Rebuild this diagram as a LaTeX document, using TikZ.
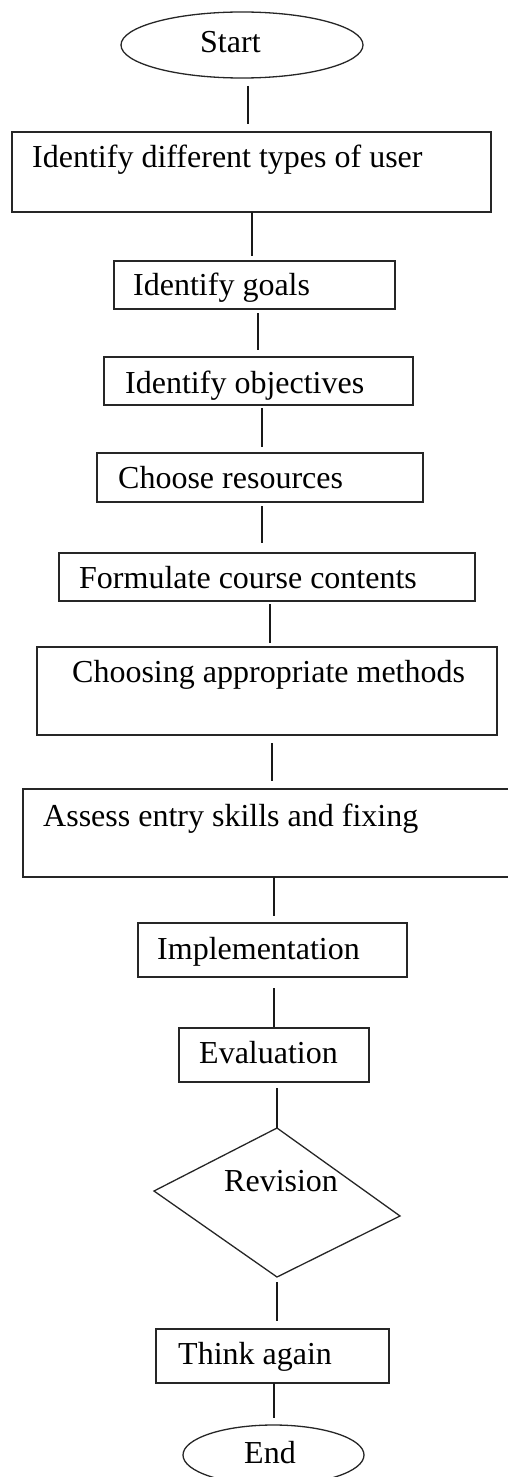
\documentclass[tikz,border=0pt]{standalone}
\usepackage{fontspec}
\setmainfont{Liberation Serif}
\usetikzlibrary{shapes.geometric}
\tikzset{
  box/.style={draw=black!85, line width=1.3pt, rectangle, inner sep=0pt, outer sep=0pt},
  oval/.style={draw=black!85, line width=1.3pt, ellipse, inner sep=0pt, outer sep=0pt},
  lbl/.style={anchor=base west, inner sep=0pt, font=\fontsize{32}{38}\selectfont},
  conn/.style={draw=black!90, line width=1.6pt},
}
\begin{document}
\begin{tikzpicture}[x=1pt,y=-1pt]
\useasboundingbox (0,0) rectangle (508,1477);
\clip (0,0) rectangle (508,1477);
% shapes
\node[oval, minimum width=242, minimum height=66] (s) at (242,45) {};
\node[box, minimum width=479, minimum height=80] (b1) at (251.5,172) {};
\node[box, minimum width=281, minimum height=48] (b2) at (254.5,285) {};
\node[box, minimum width=309, minimum height=48] (b3) at (258.5,381) {};
\node[box, minimum width=326, minimum height=49] (b4) at (260,477.5) {};
\node[box, minimum width=416, minimum height=48] (b5) at (267,577) {};
\node[box, minimum width=460, minimum height=88] (b6) at (267,691) {};
\node[box, minimum width=517, minimum height=88] (b7) at (281.5,833) {};
\node[box, minimum width=269, minimum height=54] (b8) at (272.5,950) {};
\node[box, minimum width=190, minimum height=54] (b9) at (274,1055) {};
\coordinate (dt) at (277,1128);
\coordinate (dl) at (154,1191);
\coordinate (db) at (277,1277);
\coordinate (dr) at (400,1216);
\draw[draw=black!85, line width=1.3pt, line join=miter] (dt) -- (dl) -- (db) -- (dr) -- cycle;
\node[box, minimum width=233, minimum height=54] (b10) at (272.5,1356) {};
\node[oval, minimum width=181, minimum height=60] (e) at (273.5,1455) {};
% texts
\node[lbl] (ts) at (200,53) {Start};
\node[lbl] (t1) at (32,167) {Identify different types of user};
\node[lbl] (t2) at (133,295) {Identify goals};
\node[lbl] (t3) at (125,393) {Identify objectives};
\node[lbl] (t4) at (118,488) {Choose resources};
\node[lbl] (t5) at (79,588) {Formulate course contents};
\node[lbl] (t6) at (72,682) {Choosing appropriate methods};
\node[lbl] (t7) at (43,826) {Assess entry skills and fixing};
\node[lbl] (t8) at (157,959) {Implementation};
\node[lbl] (t9) at (199,1063) {Evaluation};
\node[lbl] (tr) at (224,1191) {Revision};
\node[lbl] (t10) at (178,1364) {Think again};
\node[lbl] (te) at (244,1463) {End};
% connectors
\draw[conn, shorten <=8pt, shorten >=8pt] ([xshift=6pt]s.south) -- ([xshift=-3.5pt]b1.north);
\draw[conn, shorten >=5pt] ([xshift=0.5pt]b1.south) -- ([xshift=-2.5pt]b2.north);
\draw[conn, shorten <=4pt, shorten >=7pt] ([xshift=3.5pt]b2.south) -- ([xshift=-0.5pt]b3.north);
\draw[conn, shorten <=3pt, shorten >=6pt] ([xshift=3.5pt]b3.south) -- ([xshift=2pt]b4.north);
\draw[conn, shorten <=4pt, shorten >=10pt] ([xshift=2pt]b4.south) -- ([xshift=-5pt]b5.north);
\draw[conn, shorten <=3pt, shorten >=4pt] ([xshift=3pt]b5.south) -- ([xshift=3pt]b6.north);
\draw[conn, shorten <=8pt, shorten >=8pt] ([xshift=5pt]b6.south) -- ([xshift=-9.5pt]b7.north);
\draw[conn, shorten >=7pt] ([xshift=-7.5pt]b7.south) -- ([xshift=1.5pt]b8.north);
\draw[conn, shorten <=11pt, shorten >=1pt] ([xshift=1.5pt]b8.south) -- (b9.north);
\draw[conn, shorten <=6pt] ([xshift=3pt]b9.south) -- (dt);
\draw[conn, shorten <=5pt, shorten >=8pt] (db) -- ([xshift=4.5pt]b10.north);
\draw[conn, shorten >=7pt] ([xshift=1.5pt]b10.south) -- ([xshift=0.5pt]e.north);
\end{tikzpicture}
\end{document}
